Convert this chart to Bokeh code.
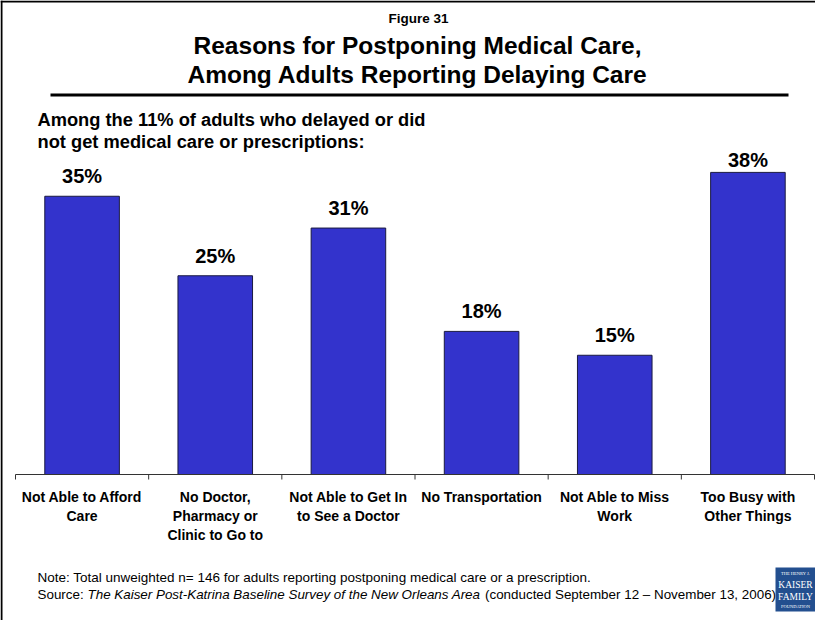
from bokeh.plotting import figure
from bokeh.models import Range1d, Label, BoxAnnotation, ColumnDataSource
from bokeh.core.properties import value
from bokeh.embed import file_html
from bokeh.resources import INLINE

# ---- data ----
categories = ["Not Able to Afford\nCare", "No Doctor,\nPharmacy or\nClinic to Go to",
              "Not Able to Get In\nto See a Doctor", "No Transportation",
              "Not Able to Miss\nWork", "Too Busy with\nOther Things"]
percents = [35, 25, 31, 18, 15, 38]
pct_labels = [f"{v}%" for v in percents]

FONT = "Liberation Sans"
W, H = 815, 620
# page-pixel geometry of the plotting area
AX_L, AX_R, AX_Y = 15, 814, 474      # axis line extent / baseline (page px)
PX_PER_PCT = 7.95
LABEL_GAP = 20 / PX_PER_PCT           # value-label gap above bar (in % units)
LABEL_CAP = 39.5                      # value labels kept below the plot top
n = len(categories)
px_per_cat = (AX_R - AX_L) / n

centers = [i + 0.5 for i in range(n)]
bounds = [float(i) for i in range(n + 1)]

# frame covers the whole canvas; data ranges chosen so that the scale maps
# category index 0..n onto AX_L..AX_R and 0% onto AX_Y
x_range = Range1d(-AX_L / px_per_cat, (W - AX_L) / px_per_cat)
y_range = Range1d(-(H - AX_Y) / PX_PER_PCT, AX_Y / PX_PER_PCT)

p = figure(width=W, height=H, output_backend="svg", toolbar_location=None,
           x_range=x_range, y_range=y_range, min_border=0,
           x_axis_location=None, y_axis_location=None)
p.outline_line_color = None
p.grid.visible = False
p.background_fill_color = "white"
p.border_fill_color = "white"

# page-pixel ranges for annotations
p.extra_x_ranges = {"px": Range1d(0, W)}
p.extra_y_ranges = {"py": Range1d(H, 0)}

label_y = [min(v + LABEL_GAP, LABEL_CAP) for v in percents]
src = ColumnDataSource(dict(x=centers, top=percents, lab=pct_labels, ly=label_y))
p.vbar(x="x", top="top", width=0.56, source=src, fill_color="#3333CC",
       line_color="#1a1a40", line_width=1)
p.text(x="x", y="ly", text="lab", source=src, text_align="center",
       text_baseline="middle", text_font=value(FONT),
       text_font_style="bold", text_font_size="20px", text_color="black")

# category axis: baseline, boundary ticks, labels
p.segment(x0=[bounds[0]], x1=[bounds[-1]], y0=[0], y1=[0], line_color="#333333", line_width=1)
p.segment(x0=bounds, x1=bounds, y0=[0] * len(bounds), y1=[-5 / PX_PER_PCT] * len(bounds),
          line_color="#333333", line_width=1)
p.text(x=centers, y=[0] * n, text=categories, text_align="center", text_baseline="top",
       y_offset=14, text_font=value(FONT), text_font_style="bold", text_font_size="14px",
       text_line_height=1.2, text_color="black")


def lab(x, y, text, size, bold=False, italic=False, align="left", color="black", font=FONT):
    style = "bold" if bold else ("italic" if italic else "normal")
    p.add_layout(Label(x=x, y=y, x_range_name="px", y_range_name="py", text=text,
                       text_font=font, text_font_size=f"{size}px", text_font_style=style,
                       text_align=align, text_baseline="middle", text_color=color))


def box(l, r, t, b, color):
    p.add_layout(BoxAnnotation(left=l, right=r, top=t, bottom=b, x_range_name="px",
                               y_range_name="py", fill_color=color, fill_alpha=1,
                               line_color=None))

# border
box(0, 2, 0, H, "black")
box(0, W, 0, 2, "black")

lab(418, 18, "Figure 31", 13.5, bold=True, align="center")
lab(417, 45, "Reasons for Postponing Medical Care,", 24.5, bold=True, align="center")
lab(417, 74, "Among Adults Reporting Delaying Care", 24.5, bold=True, align="center")
box(50, 788, 93, 96, "black")

lab(37, 119, "Among the 11% of adults who delayed or did", 18.3, bold=True)
lab(37, 141, "not get medical care or prescriptions:", 18.3, bold=True)

lab(37, 577, "Note: Total unweighted n= 146 for adults reporting postponing medical care or a prescription.", 13.5)
lab(37, 594, "Source: ", 13.4)
lab(87, 594, "The Kaiser Post-Katrina Baseline Survey of the New Orleans Area", 13.4, italic=True)
lab(484.5, 594, "(conducted September 12 \u2013 November 13, 2006)", 13.4)

# logo
box(775, 815, 567, 611, "#234f8f")
lab(795, 573, "THE HENRY J.", 4.5, color="white", font="Liberation Serif", align="center")
lab(795, 584, "KAISER", 9.5, color="white", font="Liberation Serif", align="center")
lab(795, 596, "FAMILY", 9.5, color="white", font="Liberation Serif", align="center")
lab(795, 606, "FOUNDATION", 4.5, color="white", font="Liberation Serif", align="center")

open("out.html", "w").write(file_html(p, INLINE))
